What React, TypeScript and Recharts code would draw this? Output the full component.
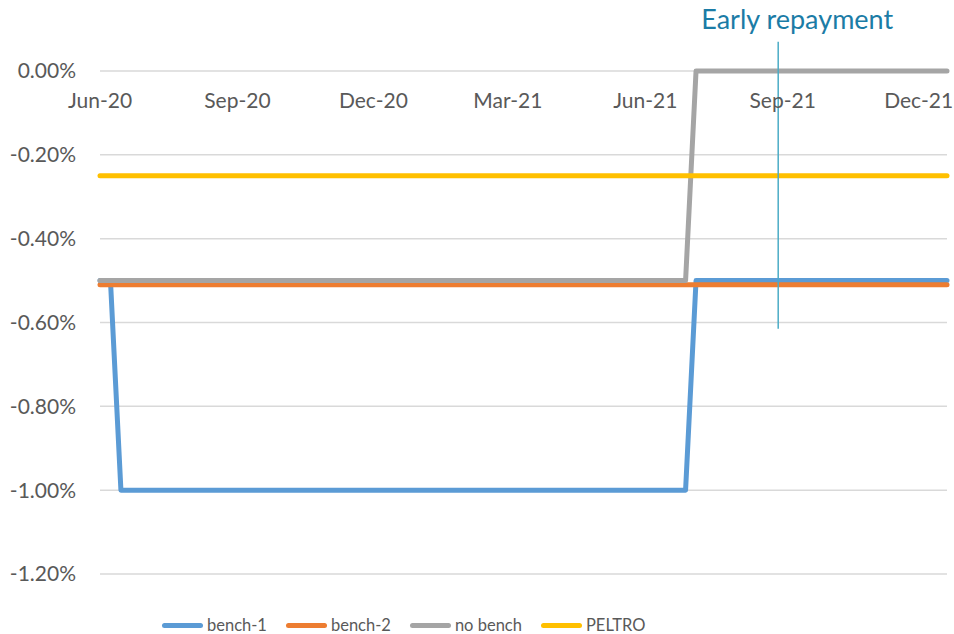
import React from 'react';
import { LineChart, Line, XAxis, YAxis, CartesianGrid, ReferenceLine, Legend } from 'recharts';

// weekly rate series, only the weeks where something changes
const DATES = ['2020-06-01', '2020-06-08', '2020-06-15', '2021-06-28', '2021-07-05', '2021-12-20'];
const BENCH_1 = [-0.5, -0.5, -1.0, -1.0, -0.5, -0.5];
const BENCH_2 = [-0.51, -0.51, -0.51, -0.51, -0.51, -0.51];
const NO_BENCH = [-0.5, -0.5, -0.5, -0.5, 0, 0];
const PELTRO = [-0.25, -0.25, -0.25, -0.25, -0.25, -0.25];

const TICK_DATES = ['2020-06-01', '2020-09-01', '2020-12-01', '2021-03-01', '2021-06-01', '2021-09-01', '2021-12-01'];
const Y_TICKS = [0, -0.2, -0.4, -0.6, -0.8, -1.0, -1.2];
const EARLY_REPAYMENT = '2021-08-29';
const EARLY_RANGE = [-0.615, 0.07];

const MONTHS = ['Jan', 'Feb', 'Mar', 'Apr', 'May', 'Jun', 'Jul', 'Aug', 'Sep', 'Oct', 'Nov', 'Dec'];

const SERIES = [
  { key: 'bench1', name: 'bench-1', color: '#5b9bd5' },
  { key: 'bench2', name: 'bench-2', color: '#ed7d31' },
  { key: 'noBench', name: 'no bench', color: '#a5a5a5' },
  { key: 'peltro', name: 'PELTRO', color: '#ffc000' },
];

const data = DATES.map((d, i) => ({
  t: Date.parse(d),
  bench1: BENCH_1[i],
  bench2: BENCH_2[i],
  noBench: NO_BENCH[i],
  peltro: PELTRO[i],
}));

const FONT = 'Lato, "Open Sans", sans-serif';
const TEXT = '#595959';
const PLOT_TOP = 71;

const fmtDate = (v: number) => {
  const d = new Date(v);
  return `${MONTHS[d.getUTCMonth()]}-${String(d.getUTCFullYear()).slice(2)}`;
};

// Excel puts the date labels just under the 0% line
const DateTick = ({ x, payload }: any) => (
  <text x={x} y={PLOT_TOP + 37} textAnchor="middle" fill={TEXT} fontSize={21} fontFamily={FONT}>
    {fmtDate(payload.value)}
  </text>
);

const RepaymentLabel = ({ viewBox }: any) => (
  <text x={viewBox.x + 19} y={viewBox.y - 13} textAnchor="middle" fill="#1b7ca6" fontSize={27} fontFamily={FONT}>
    Early repayment
  </text>
);

const LegendContent = ({ payload }: any) => {
  const items = SERIES.map((s) => (payload || []).find((p: any) => p.dataKey === s.key) || { value: s.name, color: s.color });
  return (
    <div style={{ display: 'flex', alignItems: 'center', fontFamily: FONT, fontSize: 16.5, color: TEXT, whiteSpace: 'nowrap', lineHeight: '22px' }}>
      {items.map((p: any) => (
        <div key={p.value} style={{ display: 'flex', alignItems: 'center', marginRight: 19 }}>
          <span style={{ display: 'inline-block', width: 41, height: 5, borderRadius: 3, background: p.color, marginRight: 4 }} />
          <span>{p.value}</span>
        </div>
      ))}
    </div>
  );
};

export default function App() {
  return (
    <div style={{ position: 'absolute', left: 0, top: 0, background: '#fff' }}>
      <LineChart width={954} height={634} data={data} margin={{ top: 41, right: 7, bottom: 36, left: 0 }} style={{ fontFamily: FONT }}>
        <CartesianGrid vertical={false} stroke="#d9d9d9" strokeWidth={1.5} />
        <XAxis
          dataKey="t"
          type="number"
          orientation="top"
          height={30}
          domain={['dataMin', 'dataMax']}
          ticks={TICK_DATES.map((d) => Date.parse(d))}
          axisLine={false}
          tickLine={false}
          tick={<DateTick />}
          interval={0}
        />
        <YAxis
          width={100}
          domain={[-1.2, 0]}
          ticks={Y_TICKS}
          tickFormatter={(v: number) => `${v.toFixed(2)}%`}
          axisLine={false}
          tickLine={false}
          tickMargin={18}
          tick={{ fill: TEXT, fontSize: 21, fontFamily: FONT }}
        />
        {SERIES.map((s) => (
          <Line
            key={s.key}
            dataKey={s.key}
            name={s.name}
            type="linear"
            stroke={s.color}
            strokeWidth={5}
            strokeLinejoin="round"
            strokeLinecap="round"
            dot={false}
            activeDot={false}
            isAnimationActive={false}
          />
        ))}
        <ReferenceLine
          segment={[
            { x: Date.parse(EARLY_REPAYMENT), y: EARLY_RANGE[0] },
            { x: Date.parse(EARLY_REPAYMENT), y: EARLY_RANGE[1] },
          ]}
          stroke="#4bacc6"
          strokeWidth={1.5}
          ifOverflow="visible"
          label={<RepaymentLabel />}
        />
        <Legend
          content={<LegendContent />}
          wrapperStyle={{ left: 162, top: 614, width: 600, height: 24 }}
        />
      </LineChart>
    </div>
  );
}
